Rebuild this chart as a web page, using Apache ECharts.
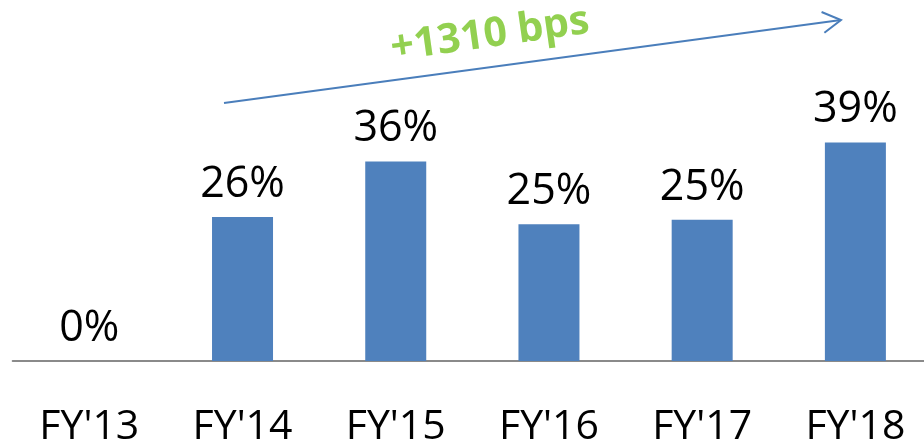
<!DOCTYPE html>
<html>
<head>
<meta charset="utf-8">
<script src="https://cdn.jsdelivr.net/npm/echarts@6/dist/echarts.min.js"></script>
<style>
html,body{margin:0;padding:0;background:#fff;overflow:hidden;width:924px;height:448px;}
#chart{width:932px;height:448px;}
</style>
</head>
<body>
<div id="chart"></div>
<script>
const categories = ["FY'13", "FY'14", "FY'15", "FY'16", "FY'17", "FY'18"];
const marginValues = [0, 25.9, 35.9, 24.6, 25.4, 39.3];
const annotationText = "+1310 bps";

const chart = echarts.init(document.getElementById('chart'), null, {renderer: 'canvas'});

// arrow annotation geometry
const ax1 = 224, ay1 = 103, ax2 = 841, ay2 = 20;
const ang = Math.atan2(ay2 - ay1, ax2 - ax1);
const headLen = 21, headAng = Math.PI / 6;
const w1 = [ax2 - headLen * Math.cos(ang - headAng), ay2 - headLen * Math.sin(ang - headAng)];
const w2 = [ax2 - headLen * Math.cos(ang + headAng), ay2 - headLen * Math.sin(ang + headAng)];

chart.setOption({
  animation: false,
  backgroundColor: '#ffffff',
  grid: {left: 12.7, right: 0, top: 83, bottom: 85, containLabel: false},
  xAxis: {
    type: 'category',
    data: categories,
    axisLine: {show: true, lineStyle: {color: '#8a8a8a', width: 2}},
    axisTick: {show: false},
    axisLabel: {
      color: '#000000',
      fontFamily: 'Open Sans',
      fontSize: 41,
      margin: 46,
      interval: 0
    }
  },
  yAxis: {
    type: 'value',
    min: 0,
    max: 50,
    show: false,
    splitLine: {show: false}
  },
  series: [{
    type: 'bar',
    data: marginValues,
    barWidth: 61,
    itemStyle: {color: '#4f81bd'},
    label: {
      show: true,
      position: 'top',
      distance: 11,
      color: '#000000',
      fontFamily: 'Open Sans',
      fontSize: 43,
      formatter: p => Math.round(p.value) + '%'
    }
  }],
  graphic: [
    {
      type: 'line',
      shape: {x1: ax1, y1: ay1, x2: ax2, y2: ay2},
      style: {stroke: '#4a7ebb', lineWidth: 2}
    },
    {
      type: 'polyline',
      shape: {points: [w1, [ax2, ay2], w2]},
      style: {stroke: '#4a7ebb', lineWidth: 2, fill: null}
    },
    {
      type: 'text',
      x: 490,
      y: 35,
      rotation: 8 * Math.PI / 180,
      style: {
        text: annotationText,
        fill: '#92d050',
        font: 'bold 41px "Open Sans"',
        textAlign: 'center',
        textVerticalAlign: 'middle'
      }
    }
  ]
});
</script>
</body>
</html>
